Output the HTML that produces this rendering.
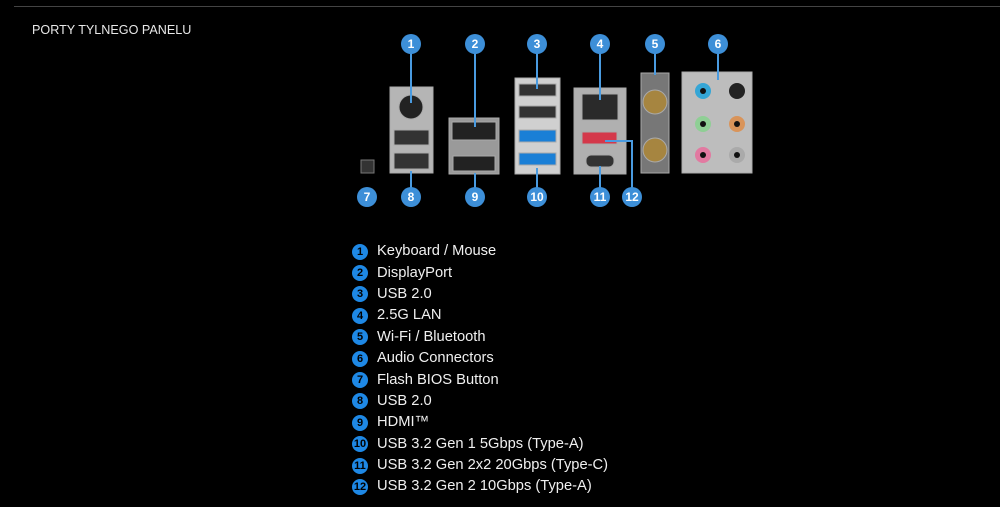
<!DOCTYPE html>
<html><head><meta charset="utf-8"><style>
body{margin:0;background:#000;width:1000px;height:507px;overflow:hidden;font-family:"Liberation Sans",sans-serif;}
.hr{position:absolute;left:14px;top:6px;width:986px;height:1px;background:#444;}
.title{position:absolute;left:32px;top:23px;color:#e8e8e8;font-size:12.6px;}
ul{position:absolute;left:352px;top:241px;margin:0;padding:0;list-style:none;}
li{height:21.4px;line-height:21px;color:#f0f0f0;font-size:14.7px;display:flex;align-items:center;}
li b{display:inline-block;width:16px;height:16px;border-radius:50%;background:#1e88e5;color:#000;font-size:11px;text-align:center;line-height:16px;margin-right:9px;font-weight:bold;}
svg{position:absolute;left:0;top:0;}
</style></head><body>
<div class="hr"></div>
<div class="title">PORTY TYLNEGO PANELU</div>
<svg width="1000" height="220">
<g stroke="#aaa">
<rect x="390" y="87" width="43" height="86" fill="#b5b5b5"/>
<circle cx="411" cy="107" r="12" fill="#222"/>
<rect x="394" y="130" width="35" height="15" fill="#333"/><rect x="394" y="153" width="35" height="16" fill="#333"/>
<rect x="449" y="118" width="50" height="56" fill="#9a9a9a"/>
<rect x="452" y="122" width="44" height="18" fill="#222"/><rect x="453" y="156" width="42" height="15" fill="#222"/>
<rect x="515" y="78" width="45" height="96" fill="#d0d0d0"/>
<rect x="519" y="84" width="37" height="12" fill="#333"/><rect x="519" y="106" width="37" height="12" fill="#333"/>
<rect x="519" y="130" width="37" height="12" fill="#1a7fd6"/><rect x="519" y="153" width="37" height="12" fill="#1a7fd6"/>
<rect x="574" y="88" width="52" height="86" fill="#b0b0b0"/>
<rect x="582" y="94" width="36" height="26" fill="#2a2a2a"/>
<rect x="582" y="132" width="35" height="12" fill="#d4384a"/>
<rect x="586" y="155" width="28" height="12" rx="5" fill="#333"/>
<rect x="641" y="73" width="28" height="100" fill="#777"/>
<circle cx="655" cy="102" r="12" fill="#a68540"/><circle cx="655" cy="150" r="12" fill="#a68540"/>
<rect x="682" y="72" width="70" height="101" fill="#bdbdbd"/>
</g>
<circle cx="703" cy="91" r="8" fill="#35a6d6"/><circle cx="737" cy="91" r="8" fill="#222"/>
<circle cx="703" cy="124" r="8" fill="#8fcf95"/><circle cx="737" cy="124" r="8" fill="#d9945a"/>
<circle cx="703" cy="155" r="8" fill="#e27aa1"/><circle cx="737" cy="155" r="8" fill="#aaa"/>
<g fill="#111"><circle cx="703" cy="91" r="3"/><circle cx="703" cy="124" r="3"/><circle cx="737" cy="124" r="3"/><circle cx="703" cy="155" r="3"/><circle cx="737" cy="155" r="3"/></g>
<rect x="361" y="160" width="13" height="13" fill="#333" stroke="#777"/>
<g stroke="#4a9be0" stroke-width="2" fill="none">
<line x1="411" y1="44" x2="411" y2="103"/><line x1="475" y1="44" x2="475" y2="127"/>
<line x1="537" y1="44" x2="537" y2="89"/><line x1="600" y1="44" x2="600" y2="100"/>
<line x1="655" y1="44" x2="655" y2="75"/><line x1="718" y1="44" x2="718" y2="80"/>
<line x1="411" y1="197" x2="411" y2="171"/><line x1="475" y1="197" x2="475" y2="173"/>
<line x1="537" y1="197" x2="537" y2="168"/><line x1="600" y1="197" x2="600" y2="166"/>
<polyline points="632,197 632,141 605,141"/>
</g>
<g fill="#3d8fd8"><circle cx="411" cy="44" r="10"/><circle cx="475" cy="44" r="10"/><circle cx="537" cy="44" r="10"/><circle cx="600" cy="44" r="10"/><circle cx="655" cy="44" r="10"/><circle cx="718" cy="44" r="10"/>
<circle cx="367" cy="197" r="10"/><circle cx="411" cy="197" r="10"/><circle cx="475" cy="197" r="10"/><circle cx="537" cy="197" r="10"/><circle cx="600" cy="197" r="10"/><circle cx="632" cy="197" r="10"/></g>
<g fill="#fff" font-size="12" font-weight="bold" text-anchor="middle" font-family="Liberation Sans,sans-serif">
<text x="411" y="48">1</text><text x="475" y="48">2</text><text x="537" y="48">3</text><text x="600" y="48">4</text><text x="655" y="48">5</text><text x="718" y="48">6</text>
<text x="367" y="201">7</text><text x="411" y="201">8</text><text x="475" y="201">9</text><text x="537" y="201">10</text><text x="600" y="201">11</text><text x="632" y="201">12</text></g>
</svg>
<ul>
<li><b>1</b>Keyboard / Mouse</li>
<li><b>2</b>DisplayPort</li>
<li><b>3</b>USB 2.0</li>
<li><b>4</b>2.5G LAN</li>
<li><b>5</b>Wi-Fi / Bluetooth</li>
<li><b>6</b>Audio Connectors</li>
<li><b>7</b>Flash BIOS Button</li>
<li><b>8</b>USB 2.0</li>
<li><b>9</b>HDMI™</li>
<li><b>10</b>USB 3.2 Gen 1 5Gbps (Type-A)</li>
<li><b>11</b>USB 3.2 Gen 2x2 20Gbps (Type-C)</li>
<li><b>12</b>USB 3.2 Gen 2 10Gbps (Type-A)</li>
</ul>
</body></html>
